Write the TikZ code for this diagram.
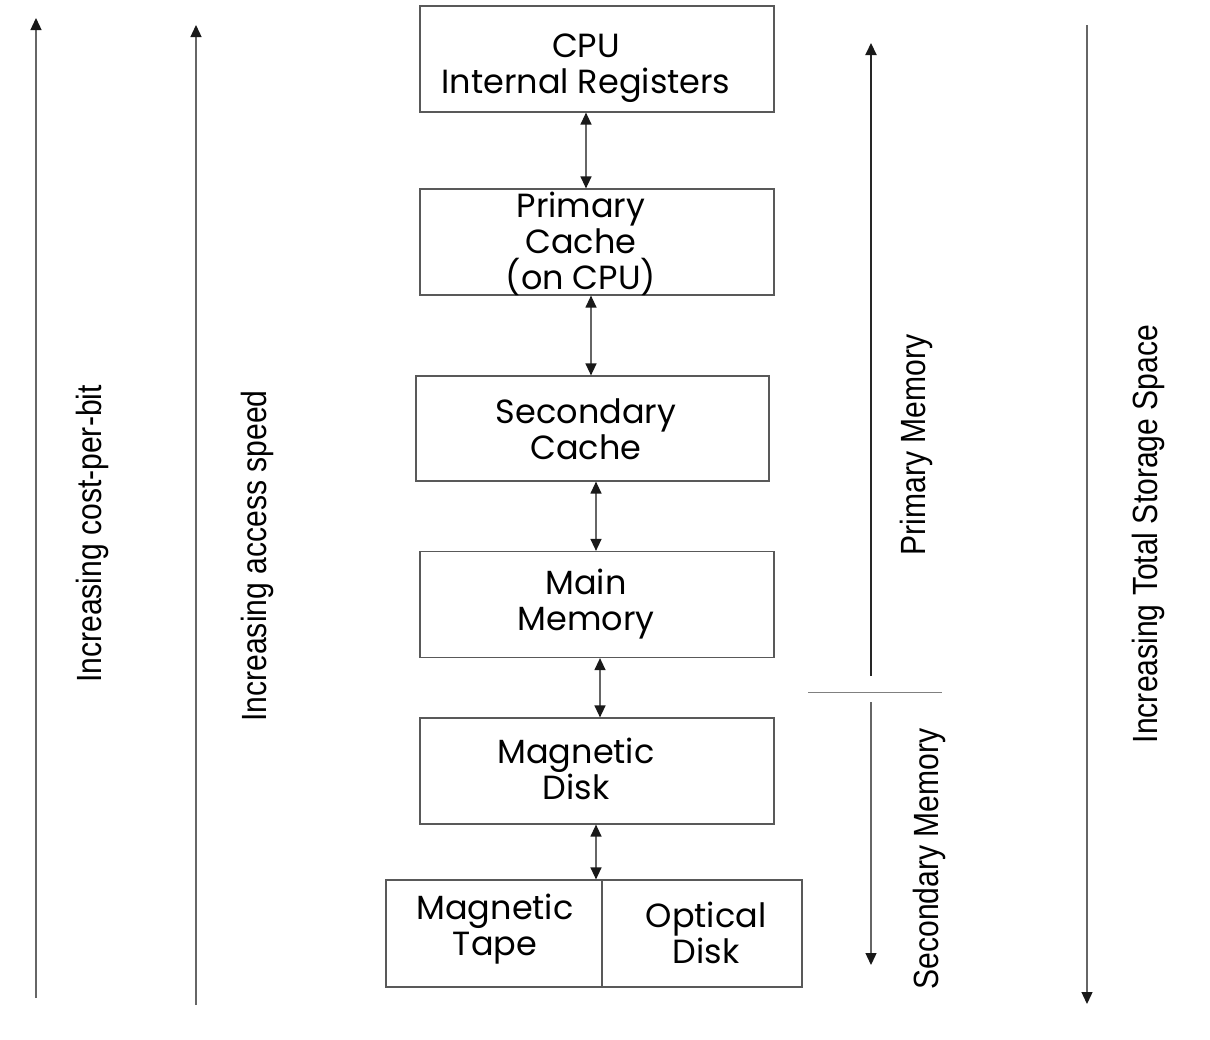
\documentclass[tikz,border=0pt]{standalone}
\usepackage{fontspec}
\newfontfamily\boxfont{Poppins}
\newfontfamily\sidefont[FakeStretch=0.86]{Liberation Sans}
\usetikzlibrary{arrows.meta, positioning}

\begin{document}
\begin{tikzpicture}[x=1pt, y=-1pt,
			>={Triangle[length=12pt, width=11pt, color=black!90]},
			box/.style={draw=gray!70!black, line width=1.2pt, minimum width=354pt,
				minimum height=106pt, inner sep=0pt},
			txt/.style={font=\boxfont\fontsize{33.5}{36}\selectfont, align=center},
			link/.style={<->, draw=gray!80!black, line width=1.3pt},
			axis/.style={->, draw=gray!80!black, line width=1.3pt},
			side/.style={font=\sidefont\fontsize{35}{40}\selectfont, rotate=90}]
			
			\useasboundingbox (0,0) rectangle (1210,1039);
			
			% the hierarchy
			\node[box] (cpu) at (597,59) {};
			\node[txt] (cputxt) at (586,68) {CPU\\Internal Registers};
			\node[box] (lone) at (597,242) {};
			\node[txt] (lonetxt) at (581,244) {Primary\\Cache\\(on CPU)};
			\node[box, minimum width=353pt, minimum height=105pt] (ltwo) at (592.5,428.5) {};
			\node[txt] (ltwotxt) at (586,429) {Secondary\\Cache};
			\node[box] (main) at (597,604.5) {};
			\node[txt] (maintxt) at (586,604) {Main\\Memory};
			\node[box] (disk) at (597,771) {};
			\node[txt] (disktxt) at (576,769) {Magnetic\\Disk};
			\node[box, minimum width=216pt, minimum height=107pt] (tape) at (494,933.5) {};
			\node[txt] (tapetxt) at (495,929) {Magnetic\\Tape};
			\node[box, minimum width=200pt, minimum height=107pt] (optic) at (702,933.5) {};
			\node[txt] (optictxt) at (706,933) {Optical\\Disk};
			
			% links between levels
			\draw[link] ([xshift=-11pt]cpu.south) -- ([xshift=-11pt]cpu.south |- lone.north);
			\draw[link] ([xshift=-6pt]lone.south) -- ([xshift=-6pt]lone.south |- ltwo.north);
			\draw[link] ([xshift=3.5pt]ltwo.south) -- ([xshift=3.5pt]ltwo.south |- main.north);
			\draw[link] ([xshift=3pt]main.south) -- ([xshift=3pt]main.south |- disk.north);
			\draw[link] ([xshift=-1pt]disk.south) -- ([xshift=-1pt]disk.south |- tape.north);
			
			% left axes
			\coordinate (costlo) at (36,998);
			\coordinate (costhi) at (36,18);
			\coordinate (speedlo) at (196,1005);
			\coordinate (speedhi) at (196,25);
			\draw[axis] (costlo) -- (costhi);
			\draw[axis] (speedlo) -- (speedhi);
			\node[side] (cost) at (92,534) {Increasing cost-per-bit};
			\node[side] (speed) at (257,556) {Increasing access speed};
			
			% right axes
			\coordinate (primlo) at (871,676);
			\coordinate (primhi) at (871,43);
			\coordinate (seclo) at (871,965);
			\coordinate (sechi) at (871,702);
			\coordinate (sepl) at (808,692);
			\coordinate (sepr) at (942,692);
			\coordinate (spacehi) at (1087,25);
			\coordinate (spacelo) at (1087,1004);
			\draw[axis, draw=black!85, line width=2pt] (primlo) -- (primhi);
			\draw[axis] (sechi) -- (seclo);
			\draw[gray, line width=0.8pt] (sepl) -- (sepr);
			\draw[axis] (spacehi) -- (spacelo);
			\node[side] (prim) at (916,445) {Primary Memory};
			\node[side] (sec) at (929,859) {Secondary Memory};
			\node[side] (space) at (1148,534) {Increasing Total Storage Space};
		\end{tikzpicture}
\end{document}
